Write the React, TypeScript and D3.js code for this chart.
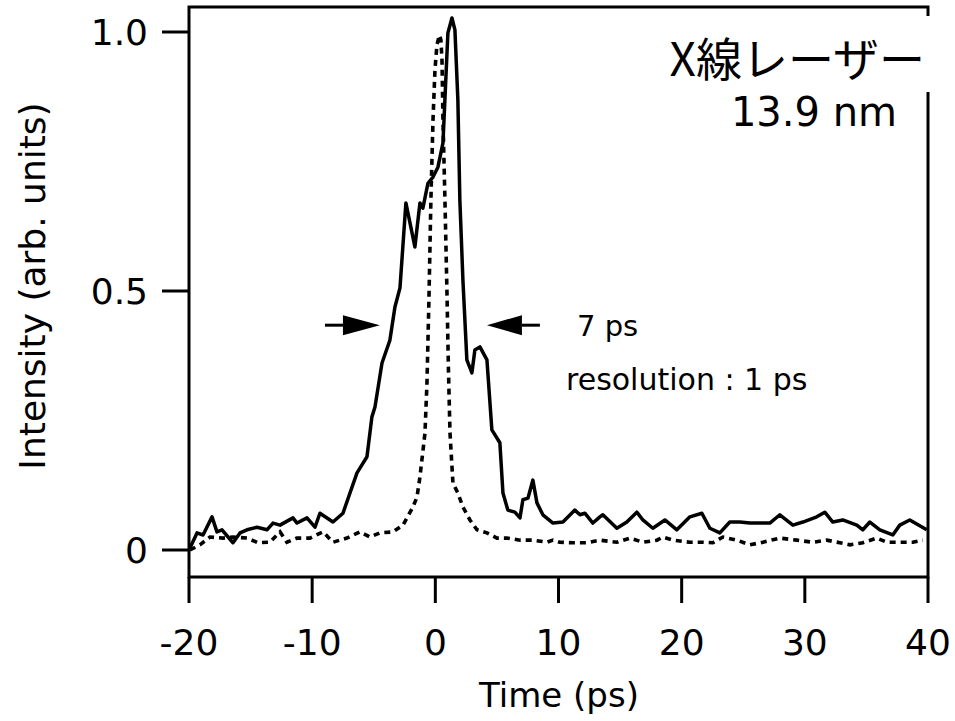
import React from "react";
import * as d3 from "d3";

const solidT = [-19.92,-19.35,-18.86,-18.13,-17.73,-17.32,-16.43,-15.86,-15.29,-14.48,-13.67,-13.18,-12.61,-11.56,-11.23,-10.42,-9.77,-9.37,-8.31,-7.5,-6.93,-6.36,-6.12,-5.55,-5.15,-4.9,-4.33,-3.69,-3.28,-2.87,-2.39,-1.66,-1.25,-1.01,-0.6,-0.19,0.21,0.62,1.02,1.35,1.59,1.83,1.99,2.24,2.56,2.97,3.21,3.62,4.19,4.59,5.24,5.49,5.89,6.46,6.87,7.11,7.52,7.92,8.25,8.73,9.55,10.36,11.33,11.74,12.14,12.79,13.36,13.6,14.74,15.55,16.36,16.85,17.66,18.64,19.61,20.67,21.64,22.29,23.1,23.91,24.72,25.54,27.16,27.97,29.03,29.84,30.97,31.62,32.27,33.08,34.22,34.71,35.28,36.09,37.14,37.71,38.52,39.9];
const solidV = [0.004,0.033,0.029,0.064,0.035,0.039,0.014,0.033,0.039,0.044,0.039,0.052,0.048,0.062,0.052,0.062,0.044,0.071,0.054,0.071,0.11,0.149,0.158,0.18,0.257,0.276,0.361,0.405,0.469,0.506,0.67,0.585,0.67,0.66,0.708,0.72,0.739,0.786,0.998,1.027,1.004,0.869,0.676,0.521,0.367,0.342,0.386,0.392,0.367,0.232,0.207,0.11,0.077,0.073,0.062,0.097,0.1,0.135,0.091,0.068,0.052,0.054,0.077,0.068,0.071,0.052,0.064,0.068,0.042,0.054,0.073,0.058,0.042,0.058,0.039,0.064,0.071,0.042,0.033,0.054,0.054,0.052,0.052,0.068,0.048,0.054,0.064,0.073,0.054,0.058,0.048,0.039,0.054,0.039,0.029,0.048,0.058,0.039];

const refT = [-19.92,-19.11,-18.3,-17.24,-16.43,-15.29,-14.4,-13.43,-12.61,-12.05,-11.23,-10.18,-9.12,-8.31,-7.18,-6.12,-5.31,-4.5,-3.44,-2.63,-1.82,-1.49,-1.25,-0.84,-0.68,-0.52,-0.36,-0.19,-0.03,0.13,0.33,0.45,0.54,0.62,0.78,0.94,1.06,1.19,1.43,1.83,2.24,2.81,3.38,4.19,5.0,5.81,6.87,7.92,9.06,9.55,10.11,11.17,12.31,13.36,14.74,15.8,16.85,17.99,18.47,19.29,20.67,21.72,22.53,23.34,24.48,25.54,26.59,27.97,29.35,30.65,31.79,32.84,33.65,34.71,35.84,36.66,37.71,38.77,39.58];
const refV = [0.0,0.01,0.025,0.023,0.025,0.023,0.014,0.015,0.035,0.015,0.023,0.023,0.035,0.015,0.023,0.035,0.025,0.033,0.035,0.048,0.083,0.102,0.141,0.226,0.322,0.483,0.676,0.83,0.927,0.975,0.994,0.985,0.946,0.83,0.676,0.502,0.353,0.226,0.129,0.11,0.083,0.058,0.039,0.033,0.023,0.023,0.019,0.019,0.015,0.019,0.015,0.014,0.014,0.019,0.015,0.023,0.015,0.019,0.025,0.019,0.015,0.015,0.014,0.025,0.019,0.01,0.015,0.023,0.019,0.015,0.019,0.014,0.01,0.014,0.023,0.015,0.015,0.015,0.019];

const xTicks = [-20, -10, 0, 10, 20, 30, 40];
const yTicks = [0, 0.5, 1.0];
const yTickLabels = ["0", "0.5", "1.0"];

const title = "X線レーザー";
const subtitle = "13.9 nm";
const widthLabel = "7 ps";
const resLabel = "resolution : 1 ps";
const xTitle = "Time (ps)";
const yTitle = "Intensity (arb. units)";

// FWHM arrows in data units: [tail, headBase, tip]
const leftArrow = [-8.96, -7.5, -4.5];
const rightArrow = [8.49, 7.03, 4.19];
const arrowLevel = 0.434;

export default function App() {
  const W = 955, H = 721;
  const x = d3.scaleLinear().domain([-20, 40]).range([189, 928]);
  const y = d3.scaleLinear().domain([0, 1]).range([550, 32]);
  const yTop = y.invert(7);
  const yBot = y.invert(577);

  const solid = solidT.map((t, i) => [t, solidV[i]] as [number, number]);
  const ref = refT.map((t, i) => [t, refV[i]] as [number, number]);
  const line = d3.line<[number, number]>().x(d => x(d[0])).y(d => y(d[1]));

  const font = "'DejaVu Sans', 'Noto Sans', sans-serif";
  const arrow = (a: number[]) => {
    const [tail, base, tip] = a;
    const yy = y(arrowLevel);
    return (
      <g>
        <line x1={x(tail)} x2={x(base)} y1={yy} y2={yy} stroke="#000" strokeWidth={3} />
        <path d={`M${x(base)},${yy - 10}L${x(tip)},${yy}L${x(base)},${yy + 10}Z`} fill="#000" />
      </g>
    );
  };

  return (
    <svg width={W} height={H} style={{ position: "absolute", left: 0, top: 0, background: "#fff" }}>
      <rect width={W} height={H} fill="#fff" />
      {/* frame */}
      <rect x={x(-20)} y={y(yTop)} width={x(40) - x(-20)} height={y(yBot) - y(yTop)} fill="none" stroke="#000" strokeWidth={3} />
      {/* data */}
      <path d={line(ref) || ""} fill="none" stroke="#000" strokeWidth={3.6} strokeDasharray="6,5" />
      <path d={line(solid) || ""} fill="none" stroke="#000" strokeWidth={3.5} strokeLinejoin="round" />
      {/* y ticks */}
      {yTicks.map((v, i) => (
        <g key={"y" + i}>
          <line x1={x(-20) - 27} x2={x(-20)} y1={y(v)} y2={y(v)} stroke="#000" strokeWidth={3} />
          <text x={x(-20) - 41} y={y(v)} dy="0.36em" textAnchor="end" fontFamily={font} fontSize={36}>{yTickLabels[i]}</text>
        </g>
      ))}
      {/* x ticks */}
      {xTicks.map((t, i) => (
        <g key={"x" + i}>
          <line x1={x(t)} x2={x(t)} y1={y(yBot)} y2={y(yBot) + 26} stroke="#000" strokeWidth={3} />
          <text x={x(t)} y={655} textAnchor="middle" fontFamily={font} fontSize={36}>{t}</text>
        </g>
      ))}
      <text x={559} y={707} textAnchor="middle" fontFamily={font} fontSize={34}>{xTitle}</text>
      <text transform={`translate(45,286) rotate(-90)`} textAnchor="middle" fontFamily={font} fontSize={36}>{yTitle}</text>
      {/* title block */}
      <rect x={650} y={16} width={300} height={76} fill="#fff" />
      <text x={925} y={76} textAnchor="end" fontFamily="'Noto Sans CJK JP', sans-serif" fontSize={46}>{title}</text>
      <text x={897} y={126} textAnchor="end" fontFamily={font} fontSize={40}>{subtitle}</text>
      {/* FWHM annotation */}
      {arrow(leftArrow)}
      {arrow(rightArrow)}
      <text x={577} y={336} fontFamily={font} fontSize={29}>{widthLabel}</text>
      <text x={566} y={390} fontFamily={font} fontSize={30}>{resLabel}</text>
    </svg>
  );
}
